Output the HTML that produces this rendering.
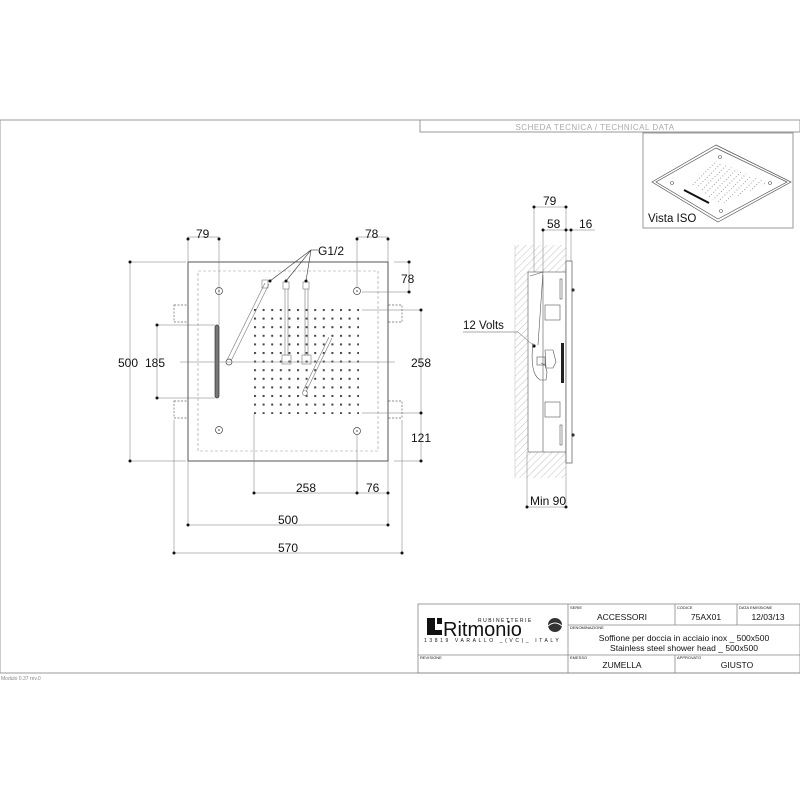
<!DOCTYPE html>
<html><head><meta charset="utf-8"><style>
html,body{margin:0;padding:0;background:#fff;width:800px;height:800px;overflow:hidden}
svg{display:block}
text{font-family:"Liberation Sans",sans-serif;fill:#111}
</style></head><body>
<svg width="800" height="800" viewBox="0 0 800 800" xmlns="http://www.w3.org/2000/svg">
<defs>
<pattern id="dots" x="254" y="309" width="8.6" height="8.6" patternUnits="userSpaceOnUse">
<rect x="0" y="0" width="2" height="2" fill="#444"/>
</pattern>
<pattern id="hatch" width="5" height="5" patternUnits="userSpaceOnUse" patternTransform="rotate(45)">
<line x1="0" y1="0" x2="0" y2="5" stroke="#999" stroke-width="0.6"/>
</pattern>
<pattern id="dots2" width="5" height="5" patternUnits="userSpaceOnUse" patternTransform="rotate(45) scale(1,0.6)">
<rect width="1" height="1" fill="#666"/>
</pattern>
</defs>
<g fill="none" stroke="#999" stroke-width="1">
<polyline points="0,673 0,120 800,120"/>
<line x1="0" y1="673" x2="800" y2="673"/>
<rect x="420" y="120" width="380" height="12"/>
<rect x="643" y="133" width="150" height="95"/>
</g>
<text x="595" y="130" font-size="8" text-anchor="middle" style="fill:#aaa" letter-spacing="0.5">SCHEDA TECNICA / TECHNICAL DATA</text>
<text x="1" y="680" font-size="5" style="fill:#888">Modulo 0.37 rev.0</text>

<g fill="none" stroke="#555" stroke-width="0.7">
<polygon points="716,145 791,182 718,222 652,182"/>
<polygon points="716,148 787,182 718,219 656,182"/>
</g>
<polygon points="716,161 768,183 720,205 690,183" fill="url(#dots2)"/>
<line x1="684" y1="190" x2="709" y2="203" stroke="#111" stroke-width="2"/>
<g fill="none" stroke="#555" stroke-width="0.6">
<circle cx="720" cy="157" r="1.5"/><circle cx="672" cy="183" r="1.5"/><circle cx="770" cy="183" r="1.5"/><circle cx="721" cy="211" r="1.5"/>
</g>
<text x="648" y="222" font-size="11.5">Vista ISO</text>

<g fill="none" stroke="#666" stroke-width="0.7">
<rect x="174" y="305" width="24" height="17" stroke-dasharray="2,1.5"/>
<rect x="174" y="401" width="24" height="17" stroke-dasharray="2,1.5"/>
<rect x="378" y="305" width="24" height="17" stroke-dasharray="2,1.5"/>
<rect x="378" y="401" width="24" height="17" stroke-dasharray="2,1.5"/>
</g>
<rect x="188" y="262" width="200" height="199" fill="#fff" stroke="#555" stroke-width="1"/>
<rect x="198" y="271" width="180" height="180" fill="none" stroke="#999" stroke-width="0.6" stroke-dasharray="3,2"/>
<rect x="254" y="309" width="105" height="105" fill="url(#dots)"/>
<g fill="none" stroke="#444" stroke-width="0.7">
<circle cx="219" cy="291" r="3.5"/><circle cx="357" cy="291" r="3.5"/><circle cx="219" cy="430" r="3.5"/><circle cx="357" cy="431" r="3.5"/>
<circle cx="229" cy="362" r="3"/>
</g>
<g fill="#444"><circle cx="219" cy="291" r="0.8"/><circle cx="357" cy="291" r="0.8"/><circle cx="219" cy="430" r="0.8"/><circle cx="357" cy="431" r="0.8"/></g>
<rect x="215" y="325" width="4" height="73" rx="2" fill="#777" stroke="#333" stroke-width="0.7"/>
<g fill="none" stroke="#777" stroke-width="0.6">
<line x1="227" y1="360" x2="265" y2="283"/><line x1="231" y1="361" x2="269" y2="284"/>
<rect x="262" y="280" width="6" height="8"/>
<rect x="283" y="282" width="6" height="7"/><rect x="303" y="282" width="6" height="7"/>
<line x1="285" y1="289" x2="285" y2="356"/><line x1="288" y1="289" x2="288" y2="356"/>
<line x1="305" y1="289" x2="305" y2="356"/><line x1="308" y1="289" x2="308" y2="356"/>
<rect x="282" y="355" width="9" height="9"/><rect x="302" y="355" width="9" height="9"/>
<line x1="303" y1="391" x2="329" y2="337"/><line x1="306" y1="392" x2="332" y2="338"/>
<circle cx="305" cy="393" r="2.5"/>
</g>
<g stroke="#333" stroke-width="0.6" fill="none">
<line x1="311" y1="250" x2="270" y2="281"/><line x1="311" y1="250" x2="286" y2="281"/><line x1="311" y1="250" x2="306" y2="281"/>
<line x1="311" y1="250" x2="318" y2="250"/>
</g>
<g fill="#111"><circle cx="270" cy="281" r="1.5"/><circle cx="286" cy="281" r="1.5"/><circle cx="306" cy="281" r="1.5"/></g>
<text x="318" y="255" font-size="12">G1/2</text>

<g stroke="#777" stroke-width="0.5" fill="none">
<line x1="188" y1="237" x2="219" y2="237"/><line x1="188" y1="237" x2="188" y2="262"/><line x1="219" y1="237" x2="219" y2="325"/>
<line x1="357" y1="237" x2="388" y2="237"/><line x1="357" y1="237" x2="357" y2="287"/><line x1="388" y1="237" x2="388" y2="262"/>
<line x1="409" y1="262" x2="409" y2="292"/><line x1="394" y1="262" x2="411" y2="262"/><line x1="362" y1="292" x2="411" y2="292"/>
<line x1="130" y1="262" x2="130" y2="461"/><line x1="130" y1="262" x2="186" y2="262"/><line x1="130" y1="461" x2="186" y2="461"/>
<line x1="157" y1="325" x2="157" y2="398"/><line x1="157" y1="325" x2="215" y2="325"/><line x1="157" y1="398" x2="215" y2="398"/>
<line x1="421" y1="310" x2="421" y2="461"/><line x1="362" y1="310" x2="421" y2="310"/><line x1="362" y1="413" x2="421" y2="413"/><line x1="394" y1="461" x2="421" y2="461"/>
<line x1="180" y1="362" x2="395" y2="362"/>
<line x1="254" y1="493" x2="388" y2="493"/><line x1="254" y1="414" x2="254" y2="493"/><line x1="357" y1="435" x2="357" y2="493"/>
<line x1="188" y1="525" x2="388" y2="525"/><line x1="188" y1="461" x2="188" y2="525"/><line x1="388" y1="461" x2="388" y2="525"/>
<line x1="174" y1="553" x2="402" y2="553"/><line x1="174" y1="420" x2="174" y2="553"/><line x1="402" y1="420" x2="402" y2="553"/>
</g>
<g fill="#111">
<circle cx="188" cy="239" r="1.5"/><circle cx="219" cy="239" r="1.5"/><circle cx="357" cy="239" r="1.5"/><circle cx="388" cy="239" r="1.5"/>
<circle cx="409" cy="262" r="1.5"/><circle cx="409" cy="292" r="1.5"/>
<circle cx="130" cy="262" r="1.5"/><circle cx="130" cy="461" r="1.5"/>
<circle cx="157" cy="325" r="1.5"/><circle cx="157" cy="398" r="1.5"/>
<circle cx="421" cy="310" r="1.5"/><circle cx="421" cy="413" r="1.5"/><circle cx="421" cy="461" r="1.5"/>
<circle cx="254" cy="493" r="1.5"/><circle cx="357" cy="493" r="1.5"/><circle cx="388" cy="493" r="1.5"/>
<circle cx="188" cy="525" r="1.5"/><circle cx="388" cy="525" r="1.5"/>
<circle cx="174" cy="553" r="1.5"/><circle cx="402" cy="553" r="1.5"/>
</g>
<g font-size="12">
<text x="196" y="238">79</text><text x="365" y="238">78</text><text x="401" y="283">78</text>
<text x="118" y="367">500</text><text x="145" y="367">185</text><text x="411" y="367">258</text><text x="411" y="442">121</text>
<text x="296" y="492">258</text><text x="366" y="492">76</text>
<text x="278" y="524">500</text><text x="278" y="552">570</text>
</g>

<rect x="515" y="245" width="51" height="233" fill="url(#hatch)"/>
<rect x="528" y="272" width="38" height="180" fill="#fff" stroke="#555" stroke-width="0.6"/>
<line x1="515" y1="245" x2="515" y2="478" stroke="#bbb" stroke-width="0.5"/>
<line x1="566" y1="245" x2="566" y2="478" stroke="#888" stroke-width="0.5"/>
<rect x="566" y="261" width="6" height="202" fill="#fff" stroke="#555" stroke-width="0.7"/>
<g fill="none" stroke="#555" stroke-width="0.6">
<line x1="543" y1="275" x2="543" y2="452"/>
<path d="M530 276 L543 272 L538 345"/>
<rect x="545" y="305" width="15" height="15"/><rect x="545" y="402" width="15" height="15"/>
<rect x="560" y="279" width="2" height="20"/><rect x="560" y="425" width="2" height="20"/>
<path d="M533 343 C531 360 532 375 540 380 L546 380 L547 372 L545 365 L541 363"/>
<path d="M545 350 L553 350 L556 362 L553 368 L546 368 Z"/>
<rect x="537" y="357" width="8" height="8"/>
</g>
<rect x="561" y="343" width="3" height="40" fill="#222"/>
<g fill="#333"><circle cx="573" cy="290" r="1.6"/><circle cx="573" cy="435" r="1.6"/></g>
<circle cx="534" cy="346" r="1.6" fill="#111"/>
<polyline points="463,332 518,332 534,346" fill="none" stroke="#555" stroke-width="0.5"/>
<text x="463" y="329" font-size="11.5">12 Volts</text>
<g stroke="#777" stroke-width="0.5" fill="none">
<line x1="534" y1="207" x2="566" y2="207"/><line x1="534" y1="207" x2="534" y2="272"/><line x1="566" y1="207" x2="566" y2="245"/>
<line x1="543" y1="230" x2="595" y2="230"/><line x1="543" y1="230" x2="543" y2="272"/><line x1="571" y1="230" x2="571" y2="261"/>
<line x1="527" y1="507" x2="566" y2="507"/><line x1="527" y1="452" x2="527" y2="507"/><line x1="566" y1="478" x2="566" y2="507"/>
</g>
<g fill="#111"><circle cx="534" cy="207" r="1.5"/><circle cx="566" cy="207" r="1.5"/><circle cx="543" cy="230" r="1.5"/><circle cx="566" cy="230" r="1.5"/><circle cx="571" cy="230" r="1.5"/><circle cx="527" cy="507" r="1.5"/><circle cx="566" cy="507" r="1.5"/></g>
<g font-size="12"><text x="543" y="205">79</text><text x="547" y="228">58</text><text x="579" y="228">16</text><text x="530" y="505">Min 90</text></g>

<g fill="none" stroke="#888" stroke-width="0.8">
<rect x="418" y="604" width="382" height="69"/>
<line x1="568" y1="604" x2="568" y2="673"/>
<line x1="675" y1="604" x2="675" y2="625"/><line x1="737" y1="604" x2="737" y2="625"/>
<line x1="568" y1="625" x2="800" y2="625"/>
<line x1="418" y1="655" x2="800" y2="655"/>
<line x1="675" y1="655" x2="675" y2="673"/>
</g>
<g font-size="4" style="fill:#999">
<text x="570" y="609">SERIE</text><text x="677" y="609">CODICE</text><text x="739" y="609">DATA EMISSIONE</text>
<text x="570" y="629">DENOMINAZIONE</text><text x="420" y="659">REVISIONE</text><text x="570" y="659">EMESSO</text><text x="677" y="659">APPROVATO</text>
</g>
<rect x="427" y="618" width="8" height="17" fill="#111"/><rect x="435" y="630" width="7" height="5" fill="#111"/><rect x="437" y="618" width="5" height="6" fill="#111"/>
<text x="443" y="636" font-size="20">Ritmonio</text>
<text x="478" y="622" font-size="5" letter-spacing="1.5">RUBINETTERIE</text>
<text x="424" y="642" font-size="5" letter-spacing="2.6">13819 VARALLO _(VC)_ ITALY</text>
<circle cx="555" cy="625" r="7" fill="#333"/><path d="M548 626 Q555 620 562 626" stroke="#fff" stroke-width="1" fill="none"/>
<g font-size="8.5">
<text x="622" y="620" text-anchor="middle">ACCESSORI</text>
<text x="706" y="620" text-anchor="middle">75AX01</text>
<text x="768" y="620" text-anchor="middle">12/03/13</text>
<text x="684" y="641" text-anchor="middle">Soffione per doccia in acciaio inox _ 500x500</text>
<text x="684" y="651" text-anchor="middle">Stainless steel shower head _ 500x500</text>
<text x="622" y="668" text-anchor="middle">ZUMELLA</text>
<text x="737" y="668" text-anchor="middle">GIUSTO</text>
</g>
</svg>
</body></html>
